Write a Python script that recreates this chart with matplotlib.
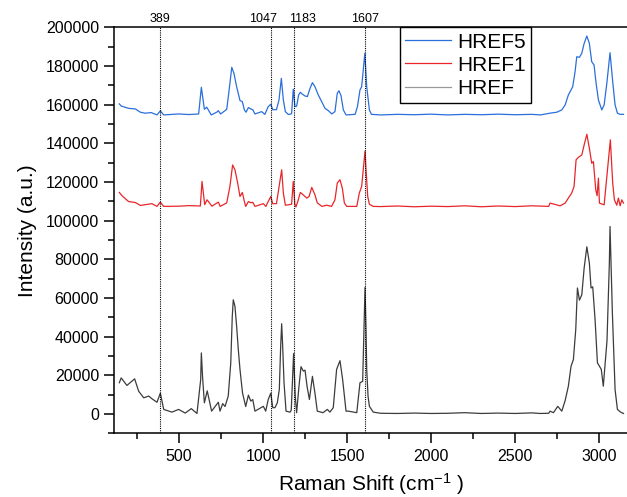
import matplotlib
matplotlib.use("Agg")
import matplotlib.pyplot as plt
from matplotlib.ticker import MultipleLocator

# Raman spectra (shift in cm-1, intensity in a.u.)
href_x = [145, 156, 190, 236, 260, 290, 320, 339, 369, 389, 409, 458, 498, 537, 573, 607,
          629, 633, 640, 651, 668, 694, 734, 744, 760, 774, 793, 808, 817, 823, 833, 843, 853,
          863, 878, 897, 913, 927,
          939, 952, 1002, 1016, 1031, 1046, 1058, 1071, 1085, 1097, 1105, 1111, 1117, 1125,
          1137, 1161, 1168,
          1182, 1192, 1200, 1214, 1226, 1240, 1250, 1262, 1276, 1294, 1309, 1323, 1357, 1383,
          1398, 1418, 1438, 1458, 1474, 1494, 1508, 1558, 1577, 1593, 1601, 1607, 1613, 1617,
          1625, 1633, 1656,
          1700, 1800, 1900, 2000, 2100, 2200, 2300, 2400, 2500, 2600, 2650, 2700,
          2708, 2728, 2754, 2778, 2798, 2817, 2833, 2847, 2861, 2871, 2883, 2897, 2911, 2927,
          2942, 2952, 2962, 2976, 2990, 3002, 3013, 3025, 3047, 3061, 3065, 3079, 3095, 3109,
          3128, 3145]
href_y = [16200, 18700, 14800, 18200, 11800, 8400, 9300, 7900, 6100, 10800, 2400, 1000, 2400, 500, 2800, 300,
          17800, 31600, 19500, 5800, 12000, 1500, 6100, 1500, 5400, 3900, 9300, 26400, 50500, 59100,
          55700, 45300, 33300,
          23000, 10900, 3900, 9800, 6700,
          7500, 1500, 4000, 1500, 7500, 10800, 3300, 3300, 5800, 12700, 35000, 46700, 35000, 16200,
          1500, 1000, 2000,
          31300, 8900, 700, 14400, 24500, 22200, 22700, 14400, 7500, 19500, 10800, 1500, 700, 2400,
          1000, 3300, 23100, 27600, 17700, 1500, 1500, 700, 16200, 16900, 43600, 65500, 43600, 23100,
          9200, 4000, 1000,
          400, 300, 500, 300, 400, 700, 300, 500, 300, 600, 300, 400,
          1500, 700, 4000, 1500, 7000, 14400, 24700, 28200, 43700, 65200, 58900, 61700, 75500, 86500,
          78100, 65200, 65800, 48800, 26500, 24700, 23100, 14400, 38000, 78100, 97000, 52300, 12700, 2400,
          1000, 300]

href1_x = [145, 161, 200, 240, 270, 339, 369, 389, 409, 500, 560, 627, 637, 653, 667, 696,
           734, 745, 784, 803, 819, 833, 849, 863, 877, 889, 897, 913, 927, 939, 952, 1002,
           1017, 1031, 1046, 1058, 1080, 1111, 1121, 1133, 1170, 1180, 1189, 1196, 1210, 1222,
           1234, 1260, 1274, 1290, 1309, 1323, 1351, 1379, 1408, 1428, 1442, 1458, 1472, 1484,
           1498, 1558, 1573, 1587, 1607, 1613, 1623, 1633, 1656,
           1700, 1800, 1900, 2000, 2100, 2200, 2300, 2400, 2500, 2600, 2700,
           2708, 2768, 2798, 2817, 2837, 2851, 2863, 2877, 2897, 2911, 2927, 2942, 2956, 2966,
           2980, 2988, 2996, 3002, 3030, 3046, 3067, 3081, 3091, 3105, 3115, 3125, 3135, 3145]
href1_y = [114600, 112900, 109900, 109400, 107900, 108800, 107400, 109600, 107400, 107500, 107800, 107600,
           120300, 108300, 110800, 107500,
           109600, 107400, 109200, 117700, 128800, 126300, 119500, 112500, 114600, 109900, 107400, 109900,
           109300, 109500, 107400, 108800,
           107400, 109900, 112500, 108800, 108800, 126300, 114300, 108000, 108500, 120300, 108800, 107100,
           110800, 114600,
           113800, 111700, 112500, 117200, 113400, 109200, 107400, 108000, 107400, 110800, 119500, 121200,
           116800, 109200,
           107400, 107400, 114300, 117700, 136000, 126300, 112500, 108500, 107400,
           107300, 107600, 107200, 107500, 107300, 107700, 107200, 107600, 107300, 107700, 107400,
           109100, 107700, 109100, 111700, 114300, 117700, 131500, 132800, 134000, 139200, 144700, 137500,
           129700, 130600,
           116000, 112900, 122000, 109100, 108200, 122800, 141800, 119400, 110800, 108000, 111700, 107700,
           110800, 109100]

href5_x = [145, 156, 200, 240, 270, 299, 335, 369, 389, 409, 498, 560, 617, 633, 651, 665,
           692, 726, 734, 748, 784, 796, 814, 827, 843, 863, 877, 889, 899, 913, 927, 939,
           952, 992, 1011, 1031, 1046, 1058, 1080, 1095, 1109, 1121, 1133, 1151, 1170, 1180,
           1190, 1200, 1212, 1222, 1234, 1250, 1264, 1280, 1294, 1309, 1329, 1349, 1369, 1389,
           1409, 1428, 1442, 1452, 1464, 1478, 1494, 1548, 1562, 1577, 1587, 1606, 1617, 1633,
           1645, 1700, 1800, 1900, 2000, 2100, 2200, 2300, 2400, 2500, 2600, 2650,
           2708, 2748, 2778, 2798, 2817, 2843, 2857, 2867, 2883, 2897, 2911, 2927, 2942, 2956,
           2970, 2982, 2996, 3016, 3030, 3046, 3065, 3081, 3095, 3109, 3125, 3145]
href5_y = [160400, 159300, 158100, 157800, 156100, 155600, 155900, 154700, 156800, 154700, 155200, 154900,
           155200, 169000, 157600, 158700,
           154700, 156200, 156900, 155200, 157600, 165900, 179300, 176200, 169300, 162100, 161600, 157300,
           156100, 158500, 157800, 157400,
           155200, 156400, 155000, 159000, 160200, 157400, 157400, 162400, 173600, 162400, 156400, 154900,
           155300, 168000,
           159000, 159200, 165000, 166400, 165400, 164500, 164200, 168500, 171400, 169300, 165000, 161600,
           158100, 156900,
           155200, 156400, 165900, 167200, 164700, 157300, 154700, 155000, 159000, 167600, 169300, 186600,
           169300, 157300,
           155000, 154700, 155000, 154800, 155100, 154700, 155000, 154800, 155100, 154800, 155000, 154700,
           155600, 156100, 157300, 159900, 165000, 169300, 177100, 184800, 184500, 186600, 191700, 195500,
           191700, 182200,
           180500, 171100, 162400, 157300, 159900, 171100, 186900, 171900, 159900, 155600, 155000, 155000]

peak_pos = [389, 1047, 1183, 1607]
peak_labels = ["389", "1047", "1183", "1607"]
label_shift = [0, -6, 6, 0]   # points, to keep the two close labels apart

plt.rcParams['font.family'] = ['Liberation Sans', 'DejaVu Sans']
plt.rcParams['mathtext.fontset'] = 'custom'
plt.rcParams['mathtext.rm'] = 'Liberation Sans'
plt.rcParams['mathtext.it'] = 'Liberation Sans:italic'

fig = plt.figure(figsize=(6.27, 4.97), dpi=100)
ax = fig.add_axes([0.1823, 0.128, 0.8177, 0.817])

ax.plot(href5_x, href5_y, color='#2a6fdb', lw=0.9, label='HREF5')
ax.plot(href1_x, href1_y, color='#e8262a', lw=0.9, label='HREF1')
ax.plot(href_x, href_y, color='#3c3c3c', lw=0.9, label='HREF')

for p, lab, dx in zip(peak_pos, peak_labels, label_shift):
    ax.axvline(p, color='black', lw=0.8, ls=(0, (1, 1)))
    ax.annotate(lab, xy=(p, 1.0), xycoords=ax.get_xaxis_transform(),
                xytext=(dx, 2), textcoords='offset points',
                ha='center', va='bottom', fontsize=9)

ax.set_xlim(115, 3166)
ax.set_ylim(-10000, 200000)
ax.xaxis.set_major_locator(MultipleLocator(500))
ax.xaxis.set_minor_locator(MultipleLocator(250))
ax.yaxis.set_major_locator(MultipleLocator(20000))
ax.yaxis.set_minor_locator(MultipleLocator(10000))
ax.tick_params(which='major', direction='out', length=7, width=1.1, labelsize=11.5, pad=4)
ax.tick_params(which='minor', direction='out', length=4, width=1.1)
ax.spines['right'].set_visible(False)
for s in ['left', 'bottom', 'top']:
    ax.spines[s].set_linewidth(1.1)

ax.set_xlabel(r'Raman Shift (cm$^{-1}$ )', fontsize=15, labelpad=5)
ax.set_ylabel('Intensity (a.u.)', fontsize=15, labelpad=6)

leg = ax.legend(loc='upper left', bbox_to_anchor=(0.557, 1.0), fontsize=15, frameon=True,
                fancybox=False, edgecolor='black', framealpha=1, borderaxespad=0,
                borderpad=0.25, labelspacing=0.2, handlelength=2.2, handletextpad=0.3)
leg.get_frame().set_linewidth(1.0)
leg.legend_handles[2].set_color('#999999')

fig.savefig('out.png', dpi=100)
